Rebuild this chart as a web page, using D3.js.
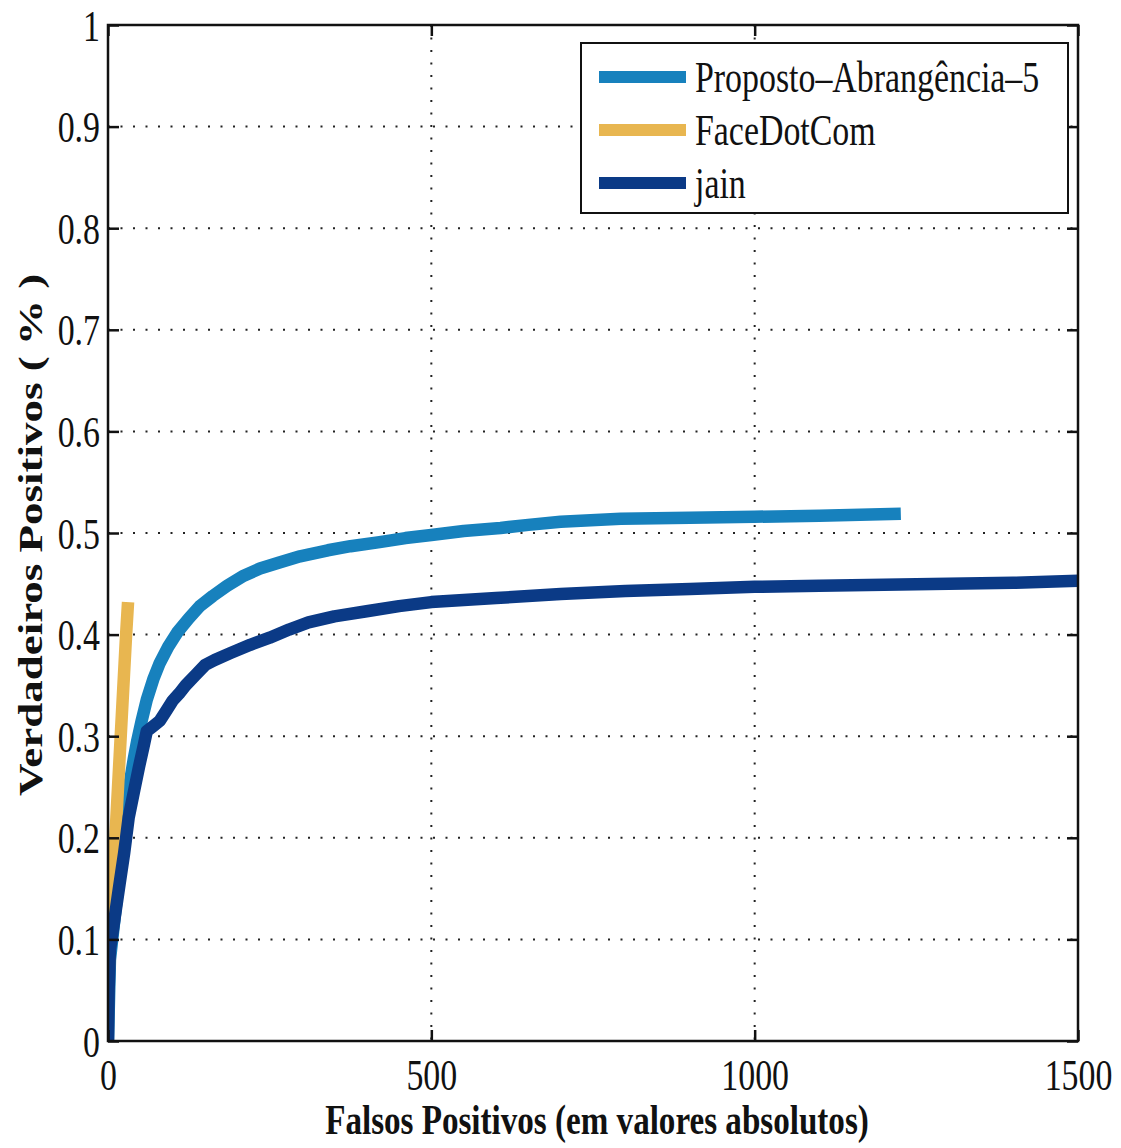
<!DOCTYPE html>
<html>
<meta charset="utf-8" />
<style>
	html, body, svg { margin: 0; padding: 0; background: #fff; }
	text { font-family: "Liberation Serif", "Times New Roman", serif; fill: #111; }
	.grid line { stroke: #222; stroke-width: 2; stroke-dasharray: 2, 10.5; }
	.axis line { stroke: #111; stroke-width: 2.5; }
	.axis path { display: none; }
</style>
<svg width="1121" height="1148"></svg>
<script src="https://d3js.org/d3.v7.min.js"></script>
<script>
	// series: [false positives, true positive rate]
	var proposto = [[0,0],[3,0.08],[10,0.12],[17,0.16],[23,0.19],[29,0.225],[34,0.255],[40,0.278],[45,0.295],[52,0.315],[60,0.336],[70,0.356],[80,0.372],[93,0.388],[107,0.402],[125,0.416],[142,0.428],[162,0.438],[184,0.448],[210,0.458],[235,0.465],[265,0.471],[297,0.477],[340,0.483],[375,0.487],[420,0.491],[460,0.495],[500,0.498],[550,0.502],[607,0.505],[650,0.508],[700,0.511],[793,0.514],[900,0.515],[1000,0.516],[1100,0.517],[1226,0.519]];
	var faceDotCom = [[0,0.05],[3,0.1],[8,0.16],[13,0.22],[18,0.28],[23,0.34],[28,0.4],[31,0.432]];
	var jain = [[0,0],[1,0.05],[3,0.09],[10,0.12],[18,0.155],[25,0.185],[32,0.22],[40,0.245],[48,0.27],[55,0.29],[60,0.305],[70,0.31],[80,0.315],[90,0.325],[100,0.335],[110,0.342],[120,0.35],[135,0.36],[150,0.37],[165,0.375],[190,0.382],[220,0.39],[250,0.397],[280,0.405],[310,0.412],[350,0.418],[400,0.423],[450,0.428],[500,0.432],[600,0.436],[700,0.44],[800,0.443],[900,0.445],[1000,0.447],[1100,0.448],[1200,0.449],[1300,0.45],[1400,0.451],[1500,0.453]];

	var seriesNames = ["Proposto–Abrangência–5", "FaceDotCom", "jain"];
	var seriesColors = ["#1781bd", "#e8b650", "#0b3a86"];
	var xTicks = [0, 500, 1000, 1500];
	var yTicks = [0, 0.1, 0.2, 0.3, 0.4, 0.5, 0.6, 0.7, 0.8, 0.9, 1];

	var svg = d3.select("svg");
	var plotLeft = 108, plotTop = 25, plotW = 970, plotH = 1016;
	var squash = 0.77; // the scanned text is narrower than normal Times

	var x = d3.scaleLinear().domain([0, 1500]).range([plotLeft, plotLeft + plotW]);
	var y = d3.scaleLinear().domain([0, 1]).range([plotTop + plotH, plotTop]);

	svg.append("clipPath").attr("id", "clip")
		.append("rect").attr("x", plotLeft).attr("y", plotTop).attr("width", plotW).attr("height", plotH);

	// dotted grid
	var grid = svg.append("g").attr("class", "grid");
	grid.selectAll("line.h").data(yTicks.slice(1, -1)).enter().append("line")
		.attr("x1", plotLeft).attr("x2", plotLeft + plotW)
		.attr("y1", function (d) { return y(d); }).attr("y2", function (d) { return y(d); });
	grid.selectAll("line.v").data(xTicks.slice(1, -1)).enter().append("line")
		.attr("y1", plotTop).attr("y2", plotTop + plotH)
		.attr("x1", function (d) { return x(d); }).attr("x2", function (d) { return x(d); });

	// curves
	var line = d3.line().x(function (d) { return x(d[0]); }).y(function (d) { return y(d[1]); });
	svg.append("g").attr("clip-path", "url(#clip)")
		.selectAll("path").data([proposto, faceDotCom, jain]).enter().append("path")
		.attr("d", line)
		.attr("fill", "none")
		.attr("stroke", function (d, i) { return seriesColors[i]; })
		.attr("stroke-width", 12.5)
		.attr("stroke-linejoin", "round");

	// axes, ticks pointing inward on all four sides
	var gx = svg.append("g").attr("class", "axis").attr("transform", "translate(0," + (plotTop + plotH) + ")")
		.call(d3.axisBottom(x).tickValues(xTicks).tickSizeInner(-11).tickSizeOuter(0).tickPadding(0).tickFormat(d3.format("d")));
	gx.selectAll("text").attr("y", 49).attr("dy", 0).attr("font-size", 44).attr("transform", "scale(" + squash + ",1)");

	var gy = svg.append("g").attr("class", "axis").attr("transform", "translate(" + plotLeft + ",0)")
		.call(d3.axisLeft(y).tickValues(yTicks).tickSizeInner(-11).tickSizeOuter(0).tickPadding(0).tickFormat(function (d) { return d3.format("")(+d.toFixed(1)); }));
	gy.selectAll("text").attr("x", -8 / squash).attr("dy", 15).attr("font-size", 44).attr("transform", "scale(" + squash + ",1)");

	svg.append("g").attr("class", "axis").attr("transform", "translate(0," + plotTop + ")")
		.call(d3.axisTop(x).tickValues(xTicks).tickSizeInner(-11).tickSizeOuter(0).tickFormat(""));
	svg.append("g").attr("class", "axis").attr("transform", "translate(" + (plotLeft + plotW) + ",0)")
		.call(d3.axisRight(y).tickValues(yTicks).tickSizeInner(-11).tickSizeOuter(0).tickFormat(""));

	svg.append("rect").attr("x", plotLeft).attr("y", plotTop).attr("width", plotW).attr("height", plotH)
		.attr("fill", "none").attr("stroke", "#111").attr("stroke-width", 2.5);

	// axis titles
	svg.append("text")
		.attr("transform", "translate(597,1134) scale(" + squash + ",1)")
		.attr("text-anchor", "middle").attr("font-size", 43).attr("font-weight", "bold")
		.text("Falsos Positivos (em valores absolutos)");
	svg.append("text")
		.attr("transform", "translate(42,535) rotate(-90) scale(1," + squash + ")")
		.attr("text-anchor", "middle").attr("font-size", 45).attr("font-weight", "bold")
		.text("Verdadeiros Positivos ( % )");

	// legend
	var legend = svg.append("g");
	legend.append("rect").attr("x", 581).attr("y", 43).attr("width", 487).attr("height", 170)
		.attr("fill", "#fff").attr("stroke", "#111").attr("stroke-width", 2);
	var entry = legend.selectAll("g.entry").data(seriesNames).enter().append("g")
		.attr("transform", function (d, i) { return "translate(0," + (77 + i * 53) + ")"; });
	entry.append("line").attr("x1", 599).attr("x2", 686)
		.attr("stroke", function (d, i) { return seriesColors[i]; }).attr("stroke-width", 12);
	entry.append("text").attr("transform", "translate(695,15) scale(" + squash + ",1)")
		.attr("font-size", 44).text(function (d) { return d; });
</script>
</html>
